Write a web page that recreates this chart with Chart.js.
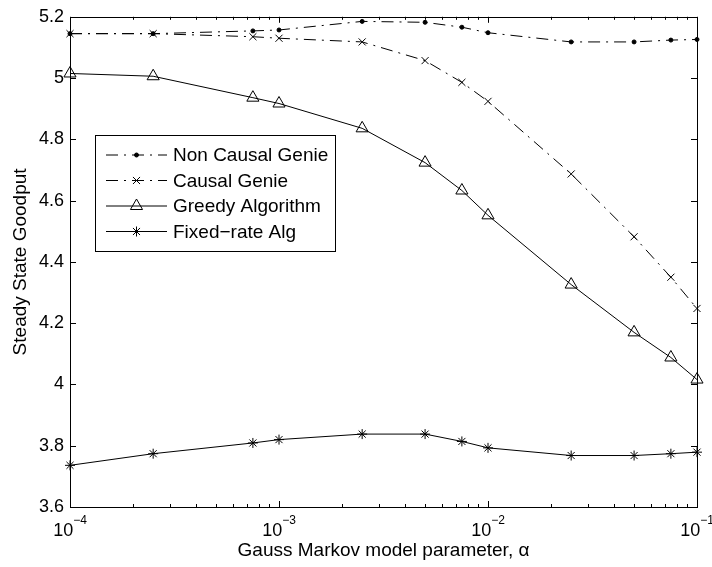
<!DOCTYPE html>
<html>
<head>
<meta charset="utf-8">
<title>Steady State Goodput</title>
<script src="https://cdn.jsdelivr.net/npm/chart.js@4.4.0/dist/chart.umd.min.js"></script>
<style>
    body { margin: 0; background: #fff; }
</style>
</head>
<body>
<canvas id="myChart" width="712" height="567"></canvas>
<script>
//static data
let alphas = [1e-4, 2.5e-4, 7.5e-4, 1e-3, 2.5e-3, 5e-3, 7.5e-3, 1e-2, 2.5e-2, 5e-2, 7.5e-2, 1e-1];

let nonCausalGenie = [5.145, 5.145, 5.154, 5.157, 5.185, 5.182, 5.166, 5.148, 5.118, 5.118, 5.124, 5.126];
let causalGenie    = [5.145, 5.145, 5.135, 5.130, 5.118, 5.057, 4.986, 4.924, 4.687, 4.482, 4.350, 4.248];
let greedyAlg      = [5.015, 5.006, 4.936, 4.917, 4.836, 4.724, 4.633, 4.552, 4.326, 4.170, 4.088, 4.016];
let fixedRateAlg   = [3.736, 3.774, 3.809, 3.820, 3.838, 3.838, 3.814, 3.793, 3.768, 3.768, 3.774, 3.779];

let seriesNames = ['Non Causal Genie', 'Causal Genie', 'Greedy Algorithm', 'Fixed\u2212rate Alg'];
let yTicks = [3.6, 3.8, 4, 4.2, 4.4, 4.6, 4.8, 5, 5.2];
let xDecades = [-4, -3, -2, -1];

const FONT = '"Liberation Sans", Arial, Helvetica, sans-serif';
const dashDot = [12, 6, 2, 6];

function toPoints(values)
{
    return alphas.map((a, i) => ({x: a, y: values[i]}));
}

let datasets = [
    {label: seriesNames[0], data: toPoints(nonCausalGenie), borderDash: dashDot,
     pointStyle: 'circle', pointRadius: 2, pointBackgroundColor: '#000'},
    {label: seriesNames[1], data: toPoints(causalGenie), borderDash: dashDot,
     pointStyle: 'crossRot', pointRadius: 5, pointBackgroundColor: 'rgba(0,0,0,0)'},
    {label: seriesNames[2], data: toPoints(greedyAlg), borderDash: [],
     pointStyle: 'triangle', pointRadius: 7, pointBackgroundColor: 'rgba(0,0,0,0)'},
    {label: seriesNames[3], data: toPoints(fixedRateAlg), borderDash: [],
     pointStyle: 'star', pointRadius: 5, pointBackgroundColor: 'rgba(0,0,0,0)'},
];
datasets.forEach(d => {
    d.borderColor = '#000';
    d.borderWidth = 1;
    d.pointBorderColor = '#000';
    d.pointBorderWidth = 1;
    d.tension = 0;
    d.clip = false;
});

//draws the box, inward ticks, x tick labels and the legend the matlab way
const matlabAxes = {
    id: 'matlabAxes',
    afterDraw(chart)
    {
        const ctx = chart.ctx;
        const area = chart.chartArea;
        const xs = chart.scales.x;
        const ys = chart.scales.y;

        ctx.save();
        ctx.strokeStyle = '#000';
        ctx.lineWidth = 1;
        ctx.setLineDash([]);
        ctx.strokeRect(Math.round(area.left) + 0.5, Math.round(area.top) + 0.5,
                       Math.round(area.right - area.left), Math.round(area.bottom - area.top));

        ctx.beginPath();
        //y ticks, left and right
        yTicks.forEach(v => {
            let y = Math.round(ys.getPixelForValue(v)) + 0.5;
            ctx.moveTo(area.left, y); ctx.lineTo(area.left + 6, y);
            ctx.moveTo(area.right, y); ctx.lineTo(area.right - 6, y);
        });
        //x ticks, bottom and top
        xDecades.forEach(e => {
            for (let m = 1; m <= 9; m++)
            {
                let v = m * Math.pow(10, e);
                if (v > xs.max * 1.0001) break;
                let len = m == 1 ? 6 : 3;
                let x = Math.round(xs.getPixelForValue(v)) + 0.5;
                ctx.moveTo(x, area.bottom); ctx.lineTo(x, area.bottom - len);
                ctx.moveTo(x, area.top); ctx.lineTo(x, area.top + len);
            }
        });
        ctx.stroke();

        //x tick labels 10^e
        ctx.fillStyle = '#000';
        ctx.textBaseline = 'alphabetic';
        ctx.textAlign = 'left';
        xDecades.forEach(e => {
            let x = xs.getPixelForValue(Math.pow(10, e));
            ctx.font = '18px ' + FONT;
            let base = '10';
            let w1 = ctx.measureText(base).width;
            ctx.font = '12px ' + FONT;
            let exp = '\u2212' + Math.abs(e);
            let w2 = ctx.measureText(exp).width;
            let start = x - (w1 + w2) / 2;
            ctx.font = '18px ' + FONT;
            ctx.fillText(base, start, 536);
            ctx.font = '12px ' + FONT;
            ctx.fillText(exp, start + w1, 524);
        });

        //legend box
        let box = {left: 95.5, top: 135.5, width: 240, height: 116};
        ctx.fillStyle = '#fff';
        ctx.fillRect(box.left, box.top, box.width, box.height);
        ctx.strokeRect(box.left, box.top, box.width, box.height);

        let rowY = [155, 180.5, 206, 231.5];
        chart.data.datasets.forEach((d, i) => {
            let y = rowY[i];
            ctx.strokeStyle = '#000';
            ctx.beginPath();
            ctx.setLineDash(d.borderDash);
            ctx.moveTo(106, y); ctx.lineTo(167, y);
            ctx.stroke();
            ctx.setLineDash([]);
            ctx.fillStyle = d.pointBackgroundColor;
            Chart.helpers.drawPoint(ctx, {
                pointStyle: d.pointStyle, radius: d.pointRadius, rotation: 0, borderWidth: 1
            }, 136.5, y);
            ctx.fillStyle = '#000';
            ctx.font = '19px ' + FONT;
            ctx.textBaseline = 'middle';
            ctx.fillText(d.label, 173, y + 1);
        });
        ctx.restore();
    }
};

const ctx = document.getElementById('myChart').getContext('2d');
const myChart = new Chart(ctx, {
    type: 'line',
    data: {datasets: datasets},
    options: {
        responsive: false,
        animation: false,
        layout: {padding: {top: 12, right: 15, left: 0, bottom: 0}},
        plugins: {
            legend: {display: false},
            tooltip: {enabled: false}
        },
        scales: {
            x: {
                type: 'logarithmic',
                min: 1e-4,
                max: 1e-1,
                grid: {display: false, drawTicks: false},
                border: {display: false},
                ticks: {display: false},
                title: {
                    display: true,
                    text: 'Gauss Markov model parameter, \u03b1',
                    color: '#000',
                    font: {family: FONT, size: 19},
                    padding: {top: 0, bottom: 5}
                },
                afterFit: scale => { scale.height = 60; }
            },
            y: {
                min: 3.6,
                max: 5.2,
                grid: {display: false, drawTicks: false},
                border: {display: false},
                afterBuildTicks: scale => { scale.ticks = yTicks.map(v => ({value: v})); },
                ticks: {
                    color: '#000',
                    padding: 6,
                    font: {family: FONT, size: 18},
                    callback: v => String(v)
                },
                title: {
                    display: true,
                    text: 'Steady State Goodput',
                    color: '#000',
                    font: {family: FONT, size: 19},
                    padding: {top: 9, bottom: 0}
                },
                afterFit: scale => { scale.width = 70; }
            }
        }
    },
    plugins: [matlabAxes]
});
</script>
</body>
</html>
